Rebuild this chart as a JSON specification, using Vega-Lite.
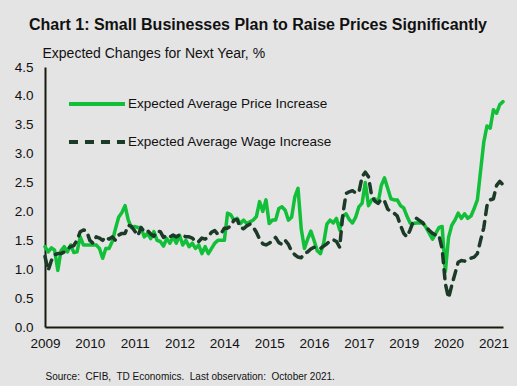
{
  "$schema": "https://vega.github.io/schema/vega-lite/v6.json",
  "width": 458,
  "height": 260,
  "autosize": "none",
  "padding": {"left": 45, "top": 67, "right": 14, "bottom": 59},
  "background": "#e4e4e4",
  "title": {
    "text": "Chart 1: Small Businesses Plan to Raise Prices Significantly",
    "font": "Liberation Sans",
    "fontSize": 16,
    "fontWeight": "bold",
    "color": "#111111",
    "anchor": "middle",
    "frame": "group",
    "offset": 13,
    "dx": -16
  },
  "data": {
    "values": [
      {"i":0,"price":1.39,"wage":1.22},{"i":1,"price":1.30,"wage":0.98},{"i":2,"price":1.37,"wage":1.15},{"i":3,"price":1.33,"wage":1.25},
      {"i":4,"price":0.98,"wage":1.27},{"i":5,"price":1.32,"wage":1.27},{"i":6,"price":1.39,"wage":1.30},{"i":7,"price":1.30,"wage":1.35},
      {"i":8,"price":1.42,"wage":1.39},{"i":9,"price":1.29,"wage":1.41},{"i":10,"price":1.30,"wage":1.50},{"i":11,"price":1.56,"wage":1.65},
      {"i":12,"price":1.42,"wage":1.68},{"i":13,"price":1.42,"wage":1.66},{"i":14,"price":1.42,"wage":1.50},{"i":15,"price":1.42,"wage":1.45},
      {"i":16,"price":1.42,"wage":1.56},{"i":17,"price":1.36,"wage":1.54},{"i":18,"price":1.19,"wage":1.50},{"i":19,"price":1.36,"wage":1.56},
      {"i":20,"price":1.36,"wage":1.52},{"i":21,"price":1.48,"wage":1.56},{"i":22,"price":1.70,"wage":1.50},{"i":23,"price":1.90,"wage":1.59},
      {"i":24,"price":1.98,"wage":1.62},{"i":25,"price":2.10,"wage":1.62},{"i":26,"price":1.85,"wage":1.76},{"i":27,"price":1.72,"wage":1.74},
      {"i":28,"price":1.74,"wage":1.66},{"i":29,"price":1.72,"wage":1.58},{"i":30,"price":1.72,"wage":1.72},{"i":31,"price":1.56,"wage":1.65},
      {"i":32,"price":1.62,"wage":1.67},{"i":33,"price":1.53,"wage":1.61},{"i":34,"price":1.65,"wage":1.57},{"i":35,"price":1.50,"wage":1.66},
      {"i":36,"price":1.48,"wage":1.65},{"i":37,"price":1.40,"wage":1.55},{"i":38,"price":1.53,"wage":1.59},{"i":39,"price":1.45,"wage":1.56},
      {"i":40,"price":1.56,"wage":1.59},{"i":41,"price":1.45,"wage":1.56},{"i":42,"price":1.59,"wage":1.59},{"i":43,"price":1.42,"wage":1.59},
      {"i":44,"price":1.50,"wage":1.56},{"i":45,"price":1.39,"wage":1.56},{"i":46,"price":1.45,"wage":1.54},{"i":47,"price":1.36,"wage":1.47},
      {"i":48,"price":1.42,"wage":1.48},{"i":49,"price":1.27,"wage":1.54},{"i":50,"price":1.39,"wage":1.52},{"i":51,"price":1.27,"wage":1.56},
      {"i":52,"price":1.36,"wage":1.64},{"i":53,"price":1.45,"wage":1.67},{"i":54,"price":1.50,"wage":1.60},{"i":55,"price":1.50,"wage":1.62},
      {"i":56,"price":1.50,"wage":1.71},{"i":57,"price":1.97,"wage":1.71},{"i":58,"price":1.94,"wage":1.75},{"i":59,"price":1.85,"wage":1.85},
      {"i":60,"price":1.88,"wage":1.86},{"i":61,"price":1.79,"wage":1.72},{"i":62,"price":1.85,"wage":1.70},{"i":63,"price":1.79,"wage":1.75},
      {"i":64,"price":1.82,"wage":1.78},{"i":65,"price":1.85,"wage":1.73},{"i":66,"price":1.91,"wage":1.64},{"i":67,"price":2.17,"wage":1.52},
      {"i":68,"price":2.00,"wage":1.44},{"i":69,"price":2.20,"wage":1.42},{"i":70,"price":1.79,"wage":1.45},{"i":71,"price":1.85,"wage":1.49},
      {"i":72,"price":1.85,"wage":1.55},{"i":73,"price":2.05,"wage":1.46},{"i":74,"price":2.08,"wage":1.43},{"i":75,"price":2.02,"wage":1.50},
      {"i":76,"price":1.85,"wage":1.43},{"i":77,"price":1.90,"wage":1.31},{"i":78,"price":2.25,"wage":1.25},{"i":79,"price":2.40,"wage":1.21},
      {"i":80,"price":1.70,"wage":1.20},{"i":81,"price":1.36,"wage":1.27},{"i":82,"price":1.52,"wage":1.30},{"i":83,"price":1.66,"wage":1.35},
      {"i":84,"price":1.50,"wage":1.38},{"i":85,"price":1.32,"wage":1.36},{"i":86,"price":1.27,"wage":1.36},{"i":87,"price":1.45,"wage":1.40},
      {"i":88,"price":1.78,"wage":1.44},{"i":89,"price":1.85,"wage":1.49},{"i":90,"price":1.80,"wage":1.51},{"i":91,"price":1.88,"wage":1.48},
      {"i":92,"price":1.68,"wage":1.38},{"i":93,"price":1.92,"wage":1.95},{"i":94,"price":1.96,"wage":2.31},{"i":95,"price":1.86,"wage":2.34},
      {"i":96,"price":1.80,"wage":2.36},{"i":97,"price":1.90,"wage":2.32},{"i":98,"price":2.08,"wage":2.33},{"i":99,"price":2.14,"wage":2.60},
      {"i":100,"price":2.50,"wage":2.68},{"i":101,"price":2.10,"wage":2.60},{"i":102,"price":2.20,"wage":2.27},{"i":103,"price":2.22,"wage":2.18},
      {"i":104,"price":2.15,"wage":2.14},{"i":105,"price":2.45,"wage":2.21},{"i":106,"price":2.58,"wage":2.18},{"i":107,"price":2.40,"wage":2.04},
      {"i":108,"price":2.22,"wage":2.00},{"i":109,"price":2.20,"wage":1.97},{"i":110,"price":2.20,"wage":1.92},{"i":111,"price":2.10,"wage":1.76},
      {"i":112,"price":2.06,"wage":1.62},{"i":113,"price":1.92,"wage":1.56},{"i":114,"price":1.80,"wage":1.68},{"i":115,"price":1.79,"wage":1.83},
      {"i":116,"price":1.80,"wage":1.88},{"i":117,"price":1.80,"wage":1.84},{"i":118,"price":1.80,"wage":1.80},{"i":119,"price":1.72,"wage":1.73},
      {"i":120,"price":1.62,"wage":1.67},{"i":121,"price":1.52,"wage":1.62},{"i":122,"price":1.62,"wage":1.59},{"i":123,"price":1.72,"wage":1.59},
      {"i":124,"price":1.74,"wage":1.35},{"i":125,"price":0.96,"wage":0.75},{"i":126,"price":1.55,"wage":0.50},{"i":127,"price":1.76,"wage":0.72},
      {"i":128,"price":1.85,"wage":0.92},{"i":129,"price":1.97,"wage":1.12},{"i":130,"price":1.88,"wage":1.15},{"i":131,"price":1.96,"wage":1.14},
      {"i":132,"price":1.88,"wage":1.17},{"i":133,"price":1.92,"wage":1.19},{"i":134,"price":2.05,"wage":1.21},{"i":135,"price":2.20,"wage":1.27},
      {"i":136,"price":2.70,"wage":1.50},{"i":137,"price":3.20,"wage":1.72},{"i":138,"price":3.48,"wage":2.10},{"i":139,"price":3.44,"wage":2.20},
      {"i":140,"price":3.76,"wage":2.22},{"i":141,"price":3.70,"wage":2.45},{"i":142,"price":3.85,"wage":2.52},{"i":143,"price":3.90,"wage":2.46}
    ]
  },
  "transform": [
    {"fold": ["price", "wage"], "as": ["key", "value"]},
    {"lookup": "key", "from": {"data": {"values": [
      {"key": "price", "series": "Expected Average Price Increase"},
      {"key": "wage", "series": "Expected Average Wage Increase"}
    ]}, "key": "key", "fields": ["series"]}}
  ],
  "mark": {"type": "line", "strokeWidth": 3.5, "strokeCap": "round", "strokeJoin": "round"},
  "encoding": {
    "x": {
      "field": "i",
      "type": "quantitative",
      "scale": {"domain": [0, 143], "nice": false, "zero": false},
      "axis": {
        "values": [0, 14, 28, 42, 56, 70, 84, 98, 112, 126, 140],
        "labelExpr": "['2009','2010','2011','2012','2014','2015','2016','2017','2019','2020','2021'][round(datum.value/14)]",
        "grid": false,
        "ticks": false,
        "domainColor": "#1a1a0f",
        "domainWidth": 2,
        "labelFont": "Liberation Sans",
        "labelFontSize": 13.5,
        "labelColor": "#111111",
        "labelPadding": 9,
        "labelFlush": false,
        "labelOverlap": false,
        "title": "Source:\u00a0 CFIB,\u00a0 TD Economics.\u00a0 Last observation:\u00a0 October 2021.",
        "titleFont": "Liberation Sans",
        "titleFontSize": 10,
        "titleFontWeight": "normal",
        "titleColor": "#111111",
        "titleAnchor": "start",
        "titleAlign": "left",
        "titleX": 0,
        "titleY": 52,
        "titleBaseline": "alphabetic"
      }
    },
    "y": {
      "field": "value",
      "type": "quantitative",
      "scale": {"domain": [0, 4.5], "nice": false},
      "axis": {
        "values": [0, 0.5, 1, 1.5, 2, 2.5, 3, 3.5, 4, 4.5],
        "format": ".1f",
        "grid": false,
        "ticks": false,
        "domainColor": "#1a1a0f",
        "domainWidth": 2,
        "labelFont": "Liberation Sans",
        "labelFontSize": 13.5,
        "labelColor": "#111111",
        "labelPadding": 12,
        "labelFlush": false,
        "labelOverlap": false,
        "title": "Expected Changes for Next Year, %",
        "titleFont": "Liberation Sans",
        "titleFontSize": 14,
        "titleFontWeight": "normal",
        "titleColor": "#111111",
        "titleAngle": 0,
        "titleAlign": "left",
        "titleX": -3,
        "titleY": -10,
        "titleBaseline": "alphabetic"
      }
    },
    "color": {
      "field": "series",
      "type": "nominal",
      "scale": {"domain": ["Expected Average Price Increase", "Expected Average Wage Increase"], "range": ["#12bf38", "#1b3a27"]},
      "legend": {
        "title": null,
        "orient": "none",
        "legendX": 22,
        "legendY": 7,
        "padding": 0,
        "symbolType": "stroke",
        "symbolSize": 3136,
        "symbolStrokeWidth": 4,
        "rowPadding": -16,
        "labelOffset": 1,
        "labelFont": "Liberation Sans",
        "labelFontSize": 13.5,
        "labelColor": "#111111",
        "labelLimit": 400
      }
    },
    "strokeDash": {
      "field": "series",
      "type": "nominal",
      "scale": {"domain": ["Expected Average Price Increase", "Expected Average Wage Increase"], "range": [[1, 0], [9, 7]]},
      "legend": {
        "title": null,
        "orient": "none",
        "legendX": 22,
        "legendY": 7,
        "padding": 0,
        "symbolType": "stroke",
        "symbolSize": 3136,
        "symbolStrokeWidth": 4,
        "rowPadding": -16,
        "labelOffset": 1,
        "labelFont": "Liberation Sans",
        "labelFontSize": 13.5,
        "labelColor": "#111111",
        "labelLimit": 400
      }
    }
  },
  "config": {
    "view": {"stroke": null}
  }
}
